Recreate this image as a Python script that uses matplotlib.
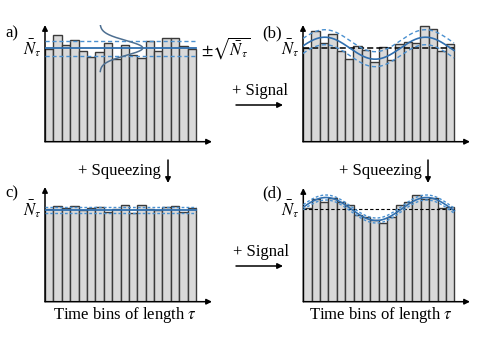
import numpy as np
import matplotlib
matplotlib.use('Agg')
import matplotlib.pyplot as plt
from matplotlib.patches import FancyArrowPatch

plt.rcParams['font.family'] = ['Liberation Serif', 'DejaVu Serif']
plt.rcParams['mathtext.fontset'] = 'stix'

W, H = 496, 351

# bar heights (arbitrary count units)
bins = np.arange(18)
counts_a = [93, 107, 97, 102, 91, 85, 90, 99, 83, 97, 87, 84, 101, 91, 104, 104, 96, 93]
counts_b = [94, 111, 99, 108, 91, 83, 96, 92, 80, 95, 82, 98, 100, 99, 116, 113, 91, 98]
counts_c = [92.4, 96, 93.4, 96, 91.7, 93.4, 95, 89.4, 92.4, 96.7, 89, 96.7, 92.4, 91.7, 94.7, 95.4, 89.7, 93.4]
counts_d = [94, 102.4, 99.7, 104, 99.4, 96.7, 86.7, 84.4, 81.7, 79, 85, 96.7, 99.4, 106.7, 102.7, 103.4, 93.4, 94.4]

# mean count level and noise width per panel
nbar_a, noise_a = 93.7, 7.5
nbar_b, noise_b = 93.5, 7.5
nbar_c, noise_c = 91.7, 2.7
nbar_d, noise_d = 92.7, 2.5

# modulation drawn in (b) and (d): amplitude, period and peak position in bins
sig_amp_b, sig_amp_d = 11.0, 11.5
sig_period = 12.0
sig_peak_b, sig_peak_d = 2.6, 2.7

BLUE = '#2f6fb0'
BLUE_D = '#4a90d0'
EDGE = '#3a3a3a'

fig = plt.figure(figsize=(W / 100, H / 100), dpi=100)


def px(x, y):
    return x / W, 1 - y / H


def panel(left, right, bottom, top):
    ax = fig.add_axes([left / W, 1 - bottom / H, (right - left) / W, (bottom - top) / H])
    ax.set_xlim(0, (right - left) / 8.39)
    ax.set_ylim(0, bottom - top)
    ax.axis('off')
    for end in [(1, 0), (0, 1)]:
        ax.annotate('', xy=end, xytext=(0, 0), xycoords='axes fraction',
                    arrowprops=dict(arrowstyle='-|>', color='black', lw=1.1,
                                    mutation_scale=8, shrinkA=0, shrinkB=0))
    return ax


def bars(ax, counts):
    ax.bar(bins, counts, width=1, align='edge', color='#d9d9d9',
           edgecolor=EDGE, linewidth=1.0, zorder=1)


xs = np.linspace(0, 18, 300)

# (a) shot noise
ax = panel(45, 212, 141.7, 25)
bars(ax, counts_a)
ax.plot([0, 18], [nbar_a] * 2, color=BLUE, lw=1.3, zorder=3)
for s in (-1, 1):
    ax.plot([0, 18], [nbar_a + s * noise_a] * 2, color=BLUE_D, lw=1, ls=(0, (3, 2)), zorder=3)
yy = np.linspace(nbar_a - 23.5, nbar_a + 23.5, 200)
ax.plot(6.55 + 5.1 * np.exp(-(yy - nbar_a) ** 2 / (2 * noise_a ** 2)), yy,
        color='#4d6f91', lw=1.1, zorder=4)

# (b) signal on top of shot noise
ax = panel(303, 470, 141.7, 25)
bars(ax, counts_b)
ax.plot([0, 18], [nbar_b] * 2, color='black', lw=1.1, ls=(0, (4, 2)), zorder=3)
sig = nbar_b + sig_amp_b * np.cos(2 * np.pi * (xs - sig_peak_b) / sig_period)
ax.plot(xs, sig, color=BLUE, lw=1.2, zorder=4)
for s in (-1, 1):
    ax.plot(xs, sig + s * noise_b, color=BLUE_D, lw=1, ls=(0, (3, 2)), zorder=4)

# (c) squeezed noise
ax = panel(45, 212, 301.7, 187)
bars(ax, counts_c)
ax.plot([0, 18], [nbar_c] * 2, color=BLUE, lw=1.3, zorder=3)
for s in (-1, 1):
    ax.plot([0, 18], [nbar_c + s * noise_c] * 2, color=BLUE_D, lw=1, ls=(0, (2, 1.5)), zorder=3)

# (d) signal with squeezed noise
ax = panel(303.3, 470, 301.7, 188)
bars(ax, counts_d)
ax.plot([0, 18], [nbar_d] * 2, color='black', lw=0.8, ls=(0, (3, 2)), zorder=3)
sig = nbar_d + sig_amp_d * np.cos(2 * np.pi * (xs - sig_peak_d) / sig_period)
ax.plot(xs, sig, color=BLUE, lw=1.2, zorder=4)
for s in (-1, 1):
    ax.plot(xs, sig + s * noise_d, color=BLUE_D, lw=1, ls=(0, (2, 1.5)), zorder=4)

# labels
fs = 12
nb = r'$\bar{N}_\tau$'
for x, y, t in [(12, 33, 'a)'), (272, 33, '(b)'), (12, 193, 'c)'), (272, 193, '(d)')]:
    fig.text(*px(x, y), t, fontsize=fs, ha='center', va='center')
for x, y in [(32, 48), (290, 48), (32, 209), (290, 209)]:
    fig.text(*px(x, y), nb, fontsize=fs, ha='center', va='center')
fig.text(*px(201, 48), r'$\pm\sqrt{\bar{N}_\tau}$', fontsize=fs, ha='left', va='center')

fig.text(*px(260, 91), '+ Signal', fontsize=fs, ha='center', va='center')
fig.text(*px(261, 252), '+ Signal', fontsize=fs, ha='center', va='center')
fig.text(*px(119, 171), '+ Squeezing', fontsize=fs, ha='center', va='center')
fig.text(*px(380, 171), '+ Squeezing', fontsize=fs, ha='center', va='center')
fig.text(*px(125, 315), r'Time bins of length $\tau$', fontsize=fs, ha='center', va='center')
fig.text(*px(381, 315), r'Time bins of length $\tau$', fontsize=fs, ha='center', va='center')

for (x0, y0), (x1, y1) in [((236, 105), (283, 105)), ((236, 266), (283, 266)),
                           ((168, 160), (168, 183)), ((428, 160), (428, 183))]:
    fig.patches.append(FancyArrowPatch(px(x0, y0), px(x1, y1), transform=fig.transFigure,
                                       arrowstyle='-|>', mutation_scale=8, lw=1.1,
                                       color='black', shrinkA=0, shrinkB=0))

fig.savefig('out.png', dpi=100)
